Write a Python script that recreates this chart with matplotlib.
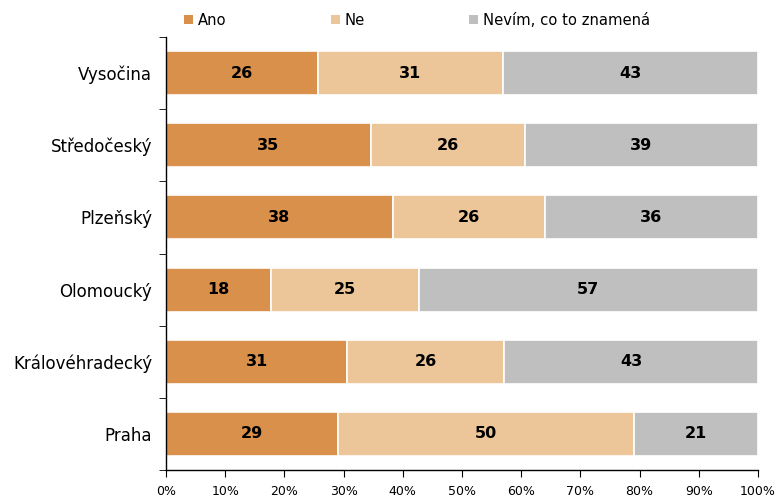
import matplotlib
matplotlib.use("Agg")
import matplotlib.pyplot as plt
import numpy as np
from matplotlib.patches import Patch

categories = ["Vysočina", "Středočeský", "Plzeňský", "Olomoucký", "Královéhradecký", "Praha"]
ano = [25.7, 34.6, 38.3, 17.7, 30.6, 29.1]
ne = [31.2, 26.0, 25.7, 25.0, 26.5, 50.0]
nevim = [43.1, 39.4, 36.0, 57.3, 42.9, 20.9]
labels_ano = [26, 35, 38, 18, 31, 29]
labels_ne = [31, 26, 26, 25, 26, 50]
labels_nevim = [43, 39, 36, 57, 43, 21]
series_names = ["Ano", "Ne", "Nevím, co to znamená"]
colors = ["#D9904A", "#ECC598", "#BFBFBF"]
xticks = [0, 10, 20, 30, 40, 50, 60, 70, 80, 90, 100]

plt.rcParams['font.family'] = ['DejaVu Sans']

fig = plt.figure(figsize=(7.78, 4.97), dpi=100)
ax = fig.add_axes([166/778, 1-470/497, (758-166)/778, (470-37)/497])

y = np.arange(len(categories))
left = np.zeros(len(categories))
for vals, labs, col, name in zip([ano, ne, nevim], [labels_ano, labels_ne, labels_nevim], colors, series_names):
    vals = np.array(vals)
    ax.barh(y, vals, left=left, height=0.61, color=col, edgecolor="white", linewidth=1.2, label=name)
    for yi, l, v, lab in zip(y, left, vals, labs):
        ax.text(l + v/2, yi, str(lab), ha="center", va="center", fontsize=11.5, fontweight="bold", color="black")
    left = left + vals

ax.set_ylim(len(categories) - 0.5, -0.5)
ax.set_xlim(0, 100)
ax.set_yticks(y)
ax.set_yticklabels(categories, fontsize=12)
ax.tick_params(axis="y", which="major", length=0, pad=10)
ax.set_yticks(np.arange(-0.5, len(categories), 1), minor=True)
ax.tick_params(axis="y", which="minor", length=5, direction="out")
ax.set_xticks(xticks)
ax.set_xticklabels([f"{t}%" for t in xticks], fontsize=9)
ax.tick_params(axis="x", length=5, direction="out", pad=6)
for s in ["top", "right"]:
    ax.spines[s].set_visible(False)
for s in ["left", "bottom"]:
    ax.spines[s].set_color("black")
    ax.spines[s].set_linewidth(1)

handles = [Patch(facecolor=c, edgecolor="none") for c in colors]
fig.legend(handles, series_names, loc="upper left", bbox_to_anchor=(174/778, 0.995), ncol=3,
           frameon=False, fontsize=10.6, handlelength=0.6, handleheight=0.6, handletextpad=0.35,
           columnspacing=7.05, borderaxespad=0.3)

fig.savefig("out.png", dpi=100)
